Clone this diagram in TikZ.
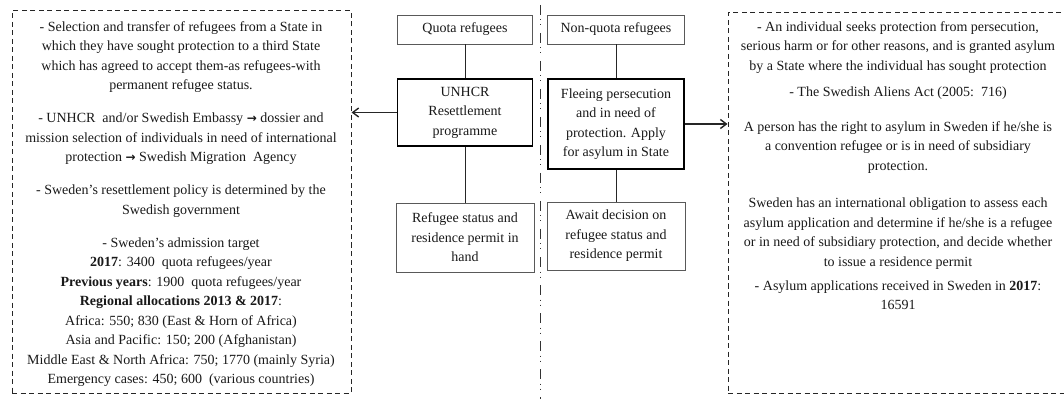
\documentclass[tikz,border=0pt]{standalone}
\usepackage{fontspec}
\setmainfont{Liberation Serif}
\newfontfamily\arrowfont{DejaVu Sans}
\newcommand{\toarrow}{{\arrowfont\bfseries\fontsize{12}{19.5}\selectfont →}}
\usetikzlibrary{arrows.meta,positioning}

\begin{document}
\begin{tikzpicture}[x=1pt,y=1pt,
  txt/.style={font=\fontsize{14}{19.5}\selectfont, text=black!90, align=center},
  thinbox/.style={txt, draw=black!65, line width=0.8pt, inner sep=2pt},
  thickbox/.style={txt, draw=black, line width=1.8pt, inner sep=2pt},
  infobox/.style={draw=black!85, line width=1pt, dash pattern=on 5pt off 3.5pt},
  link/.style={draw=black!85, line width=1pt},
  pointer/.style={link, line width=1.4pt, -{Straight Barb[length=6pt,width=9pt,line width=1.4pt]}}]
\useasboundingbox (0,0) rectangle (1064,399);
\clip (0,0) rectangle (1064,399);
% Dashed info boxes
\node[infobox, minimum width=339pt, minimum height=382pt] (leftbox) at (181.5,197) {};
\node[infobox, minimum width=342pt, minimum height=380pt] (rightbox) at (899,196) {};
% Left info text
\node[txt, inner sep=0pt, anchor=north] (lefttext) at (181,378) {%
- Selection and transfer of refugees from a State in\\
which they have sought protection to a third State\\
which has agreed to accept them-as refugees-with\\
permanent refugee status.\\[13.5pt]
- UNHCR\ \ and/or Swedish Embassy \toarrow{} dossier and\\
mission selection of individuals in need of international\\
protection \toarrow{} Swedish Migration\ \ Agency\\[13.5pt]
- Sweden’s resettlement policy is determined by the\\
Swedish government\\[13.5pt]
- Sweden’s admission target\\
\textbf{2017}: 3400\ \ quota refugees/year\\
\textbf{Previous years}: 1900\ \ quota refugees/year\\
\textbf{Regional allocations 2013 \& 2017}:\\
Africa: 550;\ 830 (East \& Horn of Africa)\\
Asia and Pacific: 150; 200 (Afghanistan)\\
Middle East \& North Africa: 750; 1770 (mainly Syria)\\
Emergency cases: 450; 600\ \ (various countries)};
% Right info text
\node[txt, inner sep=0pt, anchor=north] (righttext) at (898,378) {%
- An individual seeks protection from persecution,\\
serious harm or for other reasons, and is granted asylum\\
by a State where the individual has sought protection\\[6.5pt]
- The Swedish Aliens Act (2005:\ \ 716)\\[15.5pt]
A person has the right to asylum in Sweden if he/she is\\
a convention refugee or is in need of subsidiary\\
protection.\\[18pt]
Sweden has an international obligation to assess each\\
asylum application and determine if he/she is a refugee\\
or in need of subsidiary protection, and decide whether\\
to issue a residence permit\\[4.5pt]
- Asylum applications received in Sweden in \textbf{2017}:\\
16591};
% Quota column
\node[thinbox, minimum width=135pt, minimum height=29pt] (quota) at (465,369.5) {Quota refugees};
\node[thickbox, minimum width=135pt, minimum height=67pt] (unhcr) at (465,286.5) {UNHCR\\Resettlement\\programme};
\node[thinbox, minimum width=138pt, minimum height=69pt] (status) at (465,161.5) {Refugee status and\\residence permit in\\hand};
% Non-quota column
\node[thinbox, minimum width=137pt, minimum height=29pt] (nonquota) at (616,369.5) {Non-quota refugees};
\node[thickbox, minimum width=136pt, minimum height=90pt] (fleeing) at (616,275) {Fleeing persecution\\and in need of\\protection. Apply\\for asylum in State};
\node[thinbox, minimum width=138pt, minimum height=68pt] (await) at (616,163) {Await decision on\\refugee status and\\residence permit};
% Connectors
\draw[link] (quota) -- (unhcr);
\draw[link] (unhcr) -- (status);
\draw[link] (nonquota) -- (fleeing);
\draw[link] (fleeing) -- (await);
\draw[pointer] (unhcr.west) -- (unhcr.west -| leftbox.east);
\draw[pointer] (fleeing.east) -- (fleeing.east -| rightbox.west);
% Divider
\coordinate (divtop) at (540,394);
\coordinate (divbot) at (540,0);
\draw[black!80, line width=1pt, dash pattern=on 10pt off 4.5pt on 1pt off 4pt on 1pt off 7.5pt] (divtop) -- (divbot);
\end{tikzpicture}
\end{document}
